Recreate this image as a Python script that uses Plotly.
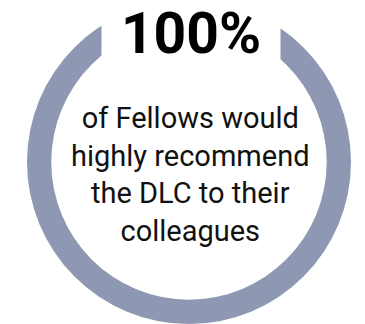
import plotly.graph_objects as go

# Data
labels = ["Would highly recommend"]
values = [100]
headline = "100%"
body_lines = ["of Fellows would", "highly recommend", "the DLC to their", "colleagues"]

ring_color = "#8F98B2"

W, H = 365, 324
cx_px = 189
R_px = 162

fig = go.Figure()
fig.add_trace(go.Pie(
    labels=labels,
    values=values,
    hole=0.85,
    sort=False,
    direction="clockwise",
    marker=dict(colors=[ring_color], line=dict(width=0)),
    textinfo="none",
    hoverinfo="label+value",
    showlegend=False,
    domain=dict(x=[(cx_px - R_px) / W, (cx_px + R_px) / W], y=[0, 1]),
))

# headline on a white box that cuts the ring at the top
fig.add_annotation(
    x=191 / W, y=1 - 33 / H, xref="paper", yref="paper",
    text="<b>" + headline + "</b>", showarrow=False,
    font=dict(family="Roboto", size=57, color="#000000"),
    bgcolor="#FFFFFF", borderpad=0, width=178, height=66,
    xanchor="center", yanchor="middle",
)

fig.add_annotation(
    x=191 / W, y=1 - 174 / H, xref="paper", yref="paper",
    text="<br>".join(body_lines), showarrow=False,
    font=dict(family="Roboto", size=29, color="#111111"),
    align="center", xanchor="center", yanchor="middle",
)

fig.update_layout(
    width=W, height=H,
    margin=dict(l=0, r=0, t=0, b=0),
    paper_bgcolor="#FFFFFF", plot_bgcolor="#FFFFFF",
)

fig.write_html("out.html")
